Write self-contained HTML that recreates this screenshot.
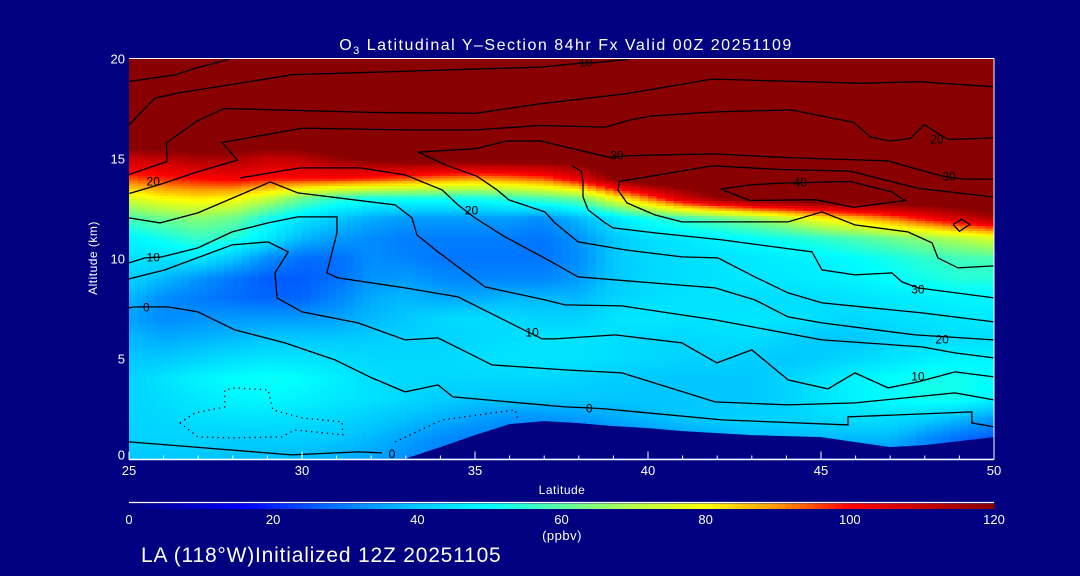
<!DOCTYPE html>
<html><head><meta charset="utf-8">
<style>
html,body{margin:0;padding:0;background:#000080;}
svg{display:block;font-family:"Liberation Sans",sans-serif;}
</style></head>
<body>
<svg id="chart" width="1080" height="576" viewBox="0 0 1080 576" xmlns="http://www.w3.org/2000/svg">
<rect x="0" y="0" width="1080" height="576" fill="#000080"/>
<g id="field"></g>
<g id="terrain"></g>
<g id="contours"></g>
<g id="axes"></g>
<g id="cbar"></g>
<text x="566" y="50" fill="#fff" font-size="16" letter-spacing="1.5" text-anchor="middle">O<tspan font-size="11" dy="4">3</tspan><tspan dy="-4"> Latitudinal Y–Section 84hr  Fx Valid 00Z 20251109</tspan></text>
<text x="141" y="562" fill="#fff" font-size="21" letter-spacing="0.8">LA (118°W)Initialized 12Z 20251105</text>
<text x="562" y="494" fill="#fff" font-size="12" letter-spacing="0.5" text-anchor="middle">Latitude</text>
<text x="0" y="0" fill="#fff" font-size="12" letter-spacing="0.5" text-anchor="middle" transform="translate(97,258) rotate(-90)">Altitude (km)</text>
<text x="562" y="540" fill="#fff" font-size="13" letter-spacing="0.5" text-anchor="middle">(ppbv)</text>
</svg>
<script>
// ---------------- data ----------------
const lats = [25,26,27,28,29,30,31,32,33,34,35,36,37,38,39,40,41,42,43,44,45,46,47,48,49,50];
const alts = [20,19,18,17,16,15,14,13,12,11,10,9,8,7,6,5,4,3,2,1,0];
const o3Rows = [
[130,130,130,130,130,130,130,130,130,130,130,130,130,130,130,130,130,130,130,130,130,130,130,130,130,130],
[130,130,130,130,130,130,130,130,130,130,130,130,130,130,130,130,130,130,130,130,130,130,130,130,130,130],
[130,130,130,130,130,130,130,130,130,130,130,130,130,130,130,130,130,130,130,130,130,130,130,130,130,130],
[130,130,130,130,130,130,130,130,130,130,130,130,130,130,130,130,130,130,130,130,130,130,130,130,130,130],
[130,130,130,130,130,130,130,130,130,130,130,130,130,130,130,130,130,130,130,130,130,130,130,130,130,130],
[110,112,115,115,110,112,118,122,125,125,125,125,125,125,130,130,130,130,130,130,130,130,130,130,130,130],
[95,98,100,102,100,100,100,98,95,92,90,92,95,105,120,130,130,130,130,130,130,130,130,130,130,130],
[75,80,82,80,72,62,55,52,52,52,52,55,58,62,78,92,108,118,125,128,130,130,130,130,130,130],
[58,62,65,62,52,45,40,36,34,34,34,34,32,38,45,52,56,60,65,72,80,86,92,100,108,115],
[48,52,56,54,46,38,34,32,30,30,30,30,29,33,40,44,46,48,50,52,55,58,62,66,70,75],
[45,45,46,40,32,28,28,32,31,29,29,29,29,32,40,43,44,45,46,47,48,50,52,55,57,58],
[42,38,33,29,26,26,28,33,34,32,31,31,31,34,40,43,44,45,46,46,47,48,50,52,54,54],
[38,32,30,28,27,27,31,36,38,36,36,38,38,38,42,44,45,45,44,44,44,45,46,47,48,48],
[35,32,33,34,34,34,35,38,40,43,44,43,42,42,45,46,45,45,46,45,44,43,44,45,46,46],
[38,36,37,38,40,40,40,41,42,42,43,44,45,45,44,43,43,44,44,42,40,40,42,43,44,44],
[40,40,42,44,45,45,44,43,43,43,44,45,45,45,44,43,42,42,41,40,41,43,45,47,48,48],
[42,45,48,50,51,50,47,44,43,43,43,43,43,42,41,40,40,40,40,42,45,48,50,52,52,50],
[42,44,46,48,49,48,46,45,43,41,40,40,40,40,40,40,40,40,40,42,45,48,50,52,52,48],
[42,43,44,45,45,44,43,41,39,37,35,33,33,34,36,38,40,41,42,42,43,44,44,42,38,34],
[42,42,42,41,41,41,40,38,35,32,30,30,30,30,30,32,34,36,38,38,38,38,38,32,28,25],
[40,40,40,39,39,38,37,35,32,30,30,30,30,30,30,30,30,30,30,30,30,30,30,30,28,25]
];
const terrainHeight = [0,0,0,0,0,0,0,0,0,0.57,1.17,1.72,1.87,1.77,1.62,1.52,1.37,1.27,1.17,1.12,1.07,0.82,0.57,0.67,0.87,1.07];

const xTicks = [25,30,35,40,45,50];
const yTicks = [0,5,10,15,20];
const cbarTicks = [0,20,40,60,80,100,120];

// contour lines (latitude, altitude km)
const cLat1 = [25.01,26.35,26.95,27.89];
const cAlt1 = [18.85,19.19,19.53,19.96];
const cLat2 = [25.01,25.75,26.45,29.73,36.89,38.2,38.49,39.44];
const cAlt2 = [16.69,18.02,18.28,19.19,19.57,19.79,19.79,19.96];
const cLat3 = [25.01,26.10,26.08,26.95,27.74,32.12,35.01,36.88,39.36,41.85,46.23,47.83,49.97];
const cAlt3 = [14.2,14.85,15.78,16.86,17.5,17.3,17.26,17.73,18.24,18.97,18.76,18.84,18.59];
const cLat4 = [25.01,25.95,27.04,28.14,27.69,30.03,33.01,35.01,36.88,38.77,39.47,40.06,41.95,44.14,45.94,46.43,46.98,47.58,47.98,48.67,49.52,49.97];
const cAlt4 = [13.25,13.73,14.37,14.92,15.8,16.52,16.43,16.43,16.65,16.57,16.92,17.12,17.33,17.43,16.81,16.08,15.87,16.0,16.69,15.95,16.0,16.04];
const cLat5 = [49.97,49.12,48.52,46.93,44.24,41.86,39.47,38.87,36.88,35.9,35.01,33.36,34.11,35.06,35.64,35.98,37.02,37.31,37.98,39.34,40.98,42.02,43.09,44.05,45.03,47.92,50.0];
const cAlt5 = [13.97,13.97,14.11,14.88,15.03,15.23,15.14,15.06,15.88,15.87,15.49,15.32,14.71,14.11,13.43,12.93,12.33,11.78,10.83,10.43,10.08,10.03,9.08,8.28,7.78,7.28,6.83];
const cLat6 = [49.97,47.83,45.84,43.84,41.86,39.17,39.13,39.39,40.2,40.98,44.05,45.03,45.98,47.51,48.21,48.38,48.96,50.0];
const cAlt6 = [13.08,13.5,14.37,14.45,14.63,13.85,13.43,12.78,12.18,11.83,11.83,12.33,11.68,11.33,10.78,10.03,9.53,9.63];
const cLat7 = [37.82,38.07,38.12,38.12,38.27,38.76,38.99,40.2,42.14,44.74,45.03,45.98,47.05,47.34,47.8,50.0];
const cAlt7 = [14.62,14.37,13.85,13.08,12.43,11.78,11.53,11.28,10.93,10.33,9.43,9.18,9.28,8.83,8.53,8.03];
const cLat8 = [42.1,42.95,43.84,45.84,47.03,47.43,45.94,44.84,42.95,42.1];
const cAlt8 = [13.47,13.68,13.77,13.85,13.34,12.9,12.56,12.94,12.9,13.47];
const cLat9 = [48.82,49.07,49.3,49.0,48.82];
const cAlt9 = [11.7,11.96,11.7,11.36,11.7];
const cLat10 = [25,25.9,26.99,28.21,29.08,29.88,32.69,33.18,33.32,33.93,35.29,37.02,37.6,39.25,41.94,45.03,47.92,48.87,50.0];
const cAlt10 = [12.03,11.78,12.28,13.18,13.83,13.28,12.68,12.03,11.18,10.33,8.58,7.93,7.68,7.63,6.93,5.93,5.58,5.28,5.03];
const cLat11 = [28.21,29.94,31.68,32.98,34.05,34.51,35.0,35.87,37.11,37.98,41.94,43.09,44.05,45.03,47.72,50.0];
const cAlt11 = [14.03,14.53,14.53,14.18,13.43,12.68,12.03,11.08,9.93,9.08,8.53,7.93,7.08,6.78,6.18,5.93];
const cLat12 = [25,25.46,25.95,26.99,27.98,29.02,29.88,31.01,31.01,30.72,31.04,32.98,34.51,36.24,36.94,37.31,39.05,40.98,41.99,43.0,44.05,45.2,45.98,46.94,47.8,48.87,50.0];
const cAlt12 = [9.78,10.03,10.08,10.53,11.33,11.78,12.08,12.08,11.28,9.28,9.03,8.53,8.08,6.58,5.98,5.98,6.18,5.78,4.78,5.43,3.93,3.48,4.28,3.53,3.83,4.33,4.08];
const cLat13 = [25,26.04,27.98,29.02,29.6,29.22,29.28,30.0,31.62,32.98,33.93,35.49,37.6,39.25,41.94,44.05,45.98,48.87,50.0];
const cAlt13 = [8.98,9.43,10.68,10.83,10.33,9.28,8.03,7.33,6.78,5.93,6.03,4.68,4.43,4.28,2.83,2.68,2.78,3.28,2.93];
const cLat14 = [25,25.17,26.13,26.99,28.06,29.51,30.95,32.02,32.98,33.93,34.36,37.6,38.27,38.76,42.14,45.78,45.78,49.36,49.36,50.0];
const cAlt14 = [7.53,7.58,7.58,7.33,6.43,5.78,4.93,4.03,3.33,3.68,3.08,2.58,2.53,2.48,1.93,1.68,2.08,2.33,1.78,1.58];
const cLat15 = [25,26.82,29.71,31.62,32.31];
const cAlt15 = [0.83,0.58,0.18,0.33,0.28];
const dLat1 = [26.47,26.91,27.77,27.77,28.06,29.02,29.16,30.0,31.16,31.18,29.8,29.42,27.98,26.99,26.47];
const dAlt1 = [1.78,2.28,2.58,3.43,3.53,3.43,2.43,2.03,1.83,1.18,1.43,1.08,1.03,1.08,1.78];
const dLat2 = [32.69,34.05,36.16,36.24];
const dAlt2 = [0.83,1.93,2.43,1.93];

const labelText = ["10","20","30","40","20","30","20","10","0","10","30","20","10","0","0"];
const labelLat  = [38.2,25.7,39.1,44.4,48.35,48.7,34.9,25.7,25.5,36.65,47.8,48.5,47.8,38.3,32.6];
const labelAlt  = [19.8,13.85,15.15,13.8,15.95,14.1,12.4,10.05,7.55,6.3,8.45,5.95,4.1,2.5,0.22];

// ---------------- helpers ----------------
const X0 = 129, X1 = 994, Y0 = 458.5, Y1 = 58.5;
const latMin = 25, latMax = 50, altMin = 0, altMax = 20;
function xs(lat){ return X0 + (lat-latMin)/(latMax-latMin)*(X1-X0); }
function ys(alt){ return Y0 - (alt-altMin)/(altMax-altMin)*(Y0-Y1); }
const NS = "http://www.w3.org/2000/svg";
function mk(tag, attrs, parent){ const e=document.createElementNS(NS,tag); for(const k in attrs) e.setAttribute(k,attrs[k]); parent.appendChild(e); return e; }

const stops = [[0,0,0,128],[16,0,0,255],[28,0,110,255],[40,0,200,255],[50,0,255,255],[60,90,255,160],[70,180,255,70],[80,255,255,0],[90,255,150,0],[100,255,0,0],[110,200,0,0],[120,136,0,0]];
function cmap(v){
  if(v<=stops[0][0]) return `rgb(${stops[0][1]},${stops[0][2]},${stops[0][3]})`;
  for(let i=1;i<stops.length;i++){
    if(v<=stops[i][0]){
      const a=stops[i-1], b=stops[i], t=(v-a[0])/(b[0]-a[0]);
      return `rgb(${Math.round(a[1]+t*(b[1]-a[1]))},${Math.round(a[2]+t*(b[2]-a[2]))},${Math.round(a[3]+t*(b[3]-a[3]))})`;
    }
  }
  const l=stops[stops.length-1]; return `rgb(${l[1]},${l[2]},${l[3]})`;
}
function valAt(lat, alt){
  const fi=(lat-lats[0])/(lats[1]-lats[0]);
  const fj=(alts[0]-alt)/(alts[0]-alts[1]);
  const i0=Math.max(0,Math.min(lats.length-2,Math.floor(fi))), j0=Math.max(0,Math.min(alts.length-2,Math.floor(fj)));
  const tx=fi-i0, ty=fj-j0;
  const a=o3Rows[j0][i0], b=o3Rows[j0][i0+1], c=o3Rows[j0+1][i0], d=o3Rows[j0+1][i0+1];
  return a*(1-tx)*(1-ty)+b*tx*(1-ty)+c*(1-tx)*ty+d*tx*ty;
}

// ---------------- field ----------------
const field=document.getElementById('field');
const SX=4, SY=8;
for(let i=0;i<lats.length-1;i++){
  for(let s=0;s<SX;s++){
    const la=lats[i]+(lats[i+1]-lats[i])*s/SX, lb=lats[i]+(lats[i+1]-lats[i])*(s+1)/SX;
    for(let j=0;j<alts.length-1;j++){
      for(let r=0;r<SY;r++){
        const aa=alts[j]+(alts[j+1]-alts[j])*r/SY, ab=alts[j]+(alts[j+1]-alts[j])*(r+1)/SY;
        const v=valAt((la+lb)/2,(aa+ab)/2);
        const rc=mk('rect',{x:xs(la).toFixed(2),y:ys(aa).toFixed(2),width:(xs(lb)-xs(la)+0.6).toFixed(2),height:(ys(ab)-ys(aa)+0.6).toFixed(2),fill:cmap(v),'shape-rendering':'crispEdges'},field);
        
        
      }
    }
  }
}

// ---------------- terrain ----------------
{
  let pts=[];
  for(let i=0;i<lats.length;i++) pts.push(xs(lats[i]).toFixed(1)+','+ys(terrainHeight[i]).toFixed(1));
  pts.push(xs(latMax)+','+ys(0)); pts.push(xs(latMin)+','+ys(0));
  const tp=mk('polygon',{points:pts.join(' '),fill:'#000080'},document.getElementById('terrain'));
  
  
}

// ---------------- contours ----------------
const cg=document.getElementById('contours');
const solid=[[cLat1,cAlt1],[cLat2,cAlt2],[cLat3,cAlt3],[cLat4,cAlt4],[cLat5,cAlt5],[cLat6,cAlt6],[cLat7,cAlt7],[cLat8,cAlt8],[cLat9,cAlt9],[cLat10,cAlt10],[cLat11,cAlt11],[cLat12,cAlt12],[cLat13,cAlt13],[cLat14,cAlt14],[cLat15,cAlt15]];
solid.forEach((c)=>{
  const p=c[0].map((la,k)=>xs(la).toFixed(1)+','+ys(c[1][k]).toFixed(1)).join(' ');
  const pl=mk('polyline',{points:p,fill:'none',stroke:'#000','stroke-width':1.3},cg);
  
  
});
[[dLat1,dAlt1],[dLat2,dAlt2]].forEach((c)=>{
  const p=c[0].map((la,k)=>xs(la).toFixed(1)+','+ys(c[1][k]).toFixed(1)).join(' ');
  const pl=mk('polyline',{points:p,fill:'none',stroke:'#000','stroke-width':1.3,'stroke-dasharray':'1.3,4'},cg);
  
  
});
labelText.forEach((t,k)=>{
  const tx=mk('text',{x:xs(labelLat[k]).toFixed(1),y:(ys(labelAlt[k])+4).toFixed(1),'font-size':12,fill:'#000','text-anchor':'middle'},cg);
  tx.textContent=t;
  
  
});

// ---------------- axes ----------------
const ax=document.getElementById('axes');
mk('line',{x1:X0,y1:Y1,x2:X1,y2:Y1,stroke:'#fff','stroke-width':1},ax);
mk('line',{x1:X1,y1:Y1,x2:X1,y2:Y0,stroke:'#fff','stroke-width':1},ax);
mk('line',{x1:X0,y1:Y0+1,x2:X1,y2:Y0+1,stroke:'#fff','stroke-width':1.5},ax);
for(let la=latMin;la<=latMax;la++){
  const major=(la%5===0);
  const tk=mk('line',{x1:xs(la),y1:Y0+1,x2:xs(la),y2:Y0+1-(major?8:4),stroke:'#fff','stroke-width':1},ax);
  
  
}
xTicks.forEach(v=>{
  const t=mk('text',{x:xs(v),y:475,'font-size':13,fill:'#fff','text-anchor':'middle'},ax);
  t.textContent=v;
  
  
});
yTicks.forEach(v=>{
  const t=mk('text',{x:X0-4,y:ys(v)+(v===0?1:5),'font-size':13,fill:'#fff','text-anchor':'end'},ax);
  t.textContent=v;
  
  
});

// ---------------- colorbar ----------------
const cb=document.getElementById('cbar');
mk('line',{x1:X0,y1:502.5,x2:X1,y2:502.5,stroke:'#fff','stroke-width':1.2},cb);
for(let v=0;v<120;v++){
  const x=X0+(v/120)*(X1-X0), w=(X1-X0)/120+0.6;
  const r=mk('rect',{x:x.toFixed(2),y:503.5,width:w.toFixed(2),height:5.5,fill:cmap(v+0.5),'shape-rendering':'crispEdges'},cb);
  
  
}
cbarTicks.forEach(v=>{
  const t=mk('text',{x:X0+(v/120)*(X1-X0),y:524,'font-size':13,fill:'#fff','text-anchor':'middle'},cb);
  t.textContent=v;
  
  
});
</script>
</body></html>
